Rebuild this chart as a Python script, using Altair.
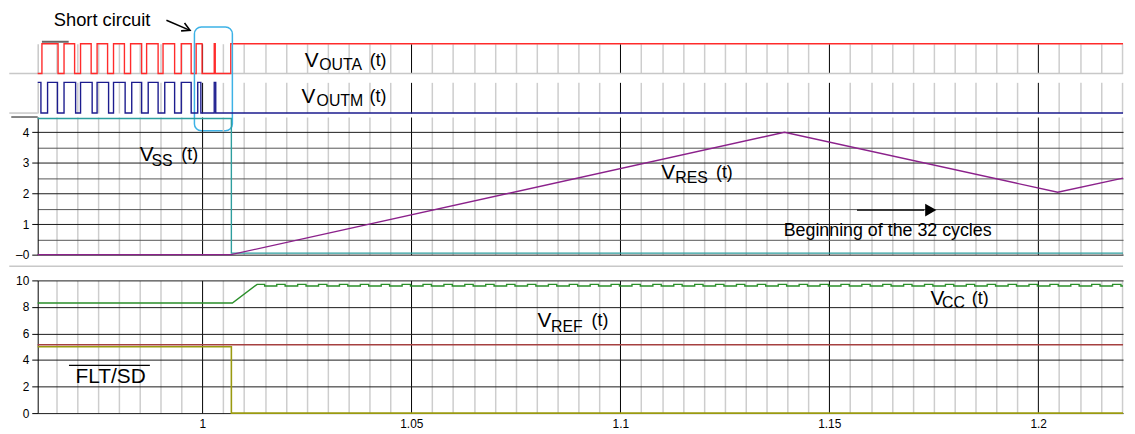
import altair as alt
import pandas as pd

FONT = "Liberation Sans"
T0, T1 = 0.9606, 1.2203
W = 1096

# ---------------- data ----------------
outa_t = [0.96059, 0.96161, 0.96547, 0.96690, 0.96943, 0.97085, 0.97339, 0.97481,
          0.97732, 0.97874, 0.98135, 0.98282, 0.98547, 0.98666, 0.98941, 0.99059,
          0.99336, 0.99495, 0.99732, 0.99851, 0.99993, 1.00284, 1.00308, 1.00680, 1.2203]
outa_v = [0, 1, 0, 1, 0, 1, 0, 1, 0, 1, 0, 1, 0, 1, 0, 1, 0, 1, 0, 1, 0, 1, 0, 1, 1]

outm_t = [0.96059, 0.96137, 0.96296, 0.96533, 0.96690, 0.96967, 0.97085, 0.97363,
          0.97481, 0.97756, 0.97874, 0.98152, 0.98310, 0.98547, 0.98704, 0.98941,
          0.99100, 0.99336, 0.99495, 0.99732, 0.99889, 0.99964, 1.00284, 1.00320, 1.2203]
outm_v = [1, 0, 1, 0, 1, 0, 1, 0, 1, 0, 1, 0, 1, 0, 1, 0, 1, 0, 1, 0, 1, 0, 1, 0, 0]

ss_t = [0.96059, 1.00694, 1.2203]
ss_v = [4.45, 0.05, 0.05]

res_t = [0.96059, 1.00687, 1.13929, 1.20467, 1.2203]
res_v = [0.0, 0.0, 4.0, 2.04, 2.5]

cc_t = [0.96059, 1.00718, 1.0131, 1.0149]
cc_v = [8.30, 8.30, 9.70, 9.70]
cc_base = 9.58
cc_peak = 9.70
cc_bump_start = [1.0178, 1.0228, 1.0278, 1.0328, 1.0378, 1.0428, 1.0478, 1.0528, 1.0578,
                 1.0628, 1.0678, 1.0728, 1.0778, 1.0828, 1.0878, 1.0928, 1.0978, 1.1028,
                 1.1078, 1.1128, 1.1178, 1.1228, 1.1278, 1.1328, 1.1378, 1.1428, 1.1478,
                 1.1528, 1.1578, 1.1628, 1.1678, 1.1728, 1.1778, 1.1828, 1.1878, 1.1928,
                 1.1978, 1.2028, 1.2078, 1.2128, 1.2178]
cc_bump_end = [1.0198, 1.0248, 1.0298, 1.0348, 1.0398, 1.0448, 1.0498, 1.0548, 1.0598,
               1.0648, 1.0698, 1.0748, 1.0798, 1.0848, 1.0898, 1.0948, 1.0998, 1.1048,
               1.1098, 1.1148, 1.1198, 1.1248, 1.1298, 1.1348, 1.1398, 1.1448, 1.1498,
               1.1548, 1.1598, 1.1648, 1.1698, 1.1748, 1.1798, 1.1848, 1.1898, 1.1948,
               1.1998, 1.2048, 1.2098, 1.2148, 1.2198]
cc_end = 1.2203

ref_t = [0.96059, 1.2203]
ref_v = [5.15, 5.15]

flt_t = [0.96059, 1.00694, 1.2203]
flt_v = [5.0, 0.0, 0.0]

x_label_values = [1.0, 1.05, 1.1, 1.15, 1.2]
x_grid_values = [round(0.965 + 0.005 * i, 3) for i in range(52)]
ss_grid_values = [0, 0.5, 1, 1.5, 2, 2.5, 3, 3.5, 4]
b_tick_values = [0, 2, 4, 6, 8, 10]

# ---------------- helpers ----------------
MAJOR = "abs(datum.value*20 - round(datum.value*20)) < 0.001"
GRID_COLOR = {"condition": {"test": MAJOR, "value": "#000000"}, "value": "#cdcdcd"}
GRID_WIDTH = {"condition": {"test": MAJOR, "value": 1}, "value": 1.5}


def x_axis(labels=False):
    kw = dict(values=x_grid_values, grid=True, gridColor=GRID_COLOR, gridWidth=GRID_WIDTH,
              gridOpacity=1, ticks=False, domain=False, title=None)
    if labels:
        kw.update(labels=True, labelExpr=f"{MAJOR} ? format(datum.value, '~g') : ''",
                  labelFont=FONT, labelFontSize=12, labelColor="black", labelPadding=6,
                  labelOverlap=False, labelFlush=False)
    else:
        kw.update(labels=False)
    return alt.Axis(**kw)


def xenc(axis, field="t"):
    return alt.X(f"{field}:Q", scale=alt.Scale(domain=[T0, T1], nice=False, zero=False), axis=axis)


def trace(ts, vs, color, yenc, xa, interp="linear", width=1.4):
    df = pd.DataFrame({"t": ts, "v": vs, "i": list(range(len(ts)))})
    return alt.Chart(df).mark_line(color=color, strokeWidth=width, interpolate=interp).encode(
        x=xenc(xa), y=yenc, order="i:Q")


def texts(items, yenc, xa):
    df = pd.DataFrame(items, columns=["s", "t", "v", "fs"])
    return alt.Chart(df).mark_text(font=FONT, align="left", baseline="alphabetic",
                                   color="black").encode(
        x=xenc(xa), y=yenc, text="s:N", size=alt.Size("fs:Q", scale=None))


def hline(v, x1, x2, color, width, yenc):
    df = pd.DataFrame({"v": [v]})
    return alt.Chart(df).mark_rule(color=color, strokeWidth=width).encode(
        x=alt.value(x1), x2=alt.value(x2), y=yenc)


def spacer(h):
    return alt.Chart(pd.DataFrame({"a": [0]})).mark_rule(strokeOpacity=0).encode(
        x=alt.value(0), x2=alt.value(1), y=alt.value(0)).properties(width=W, height=h)


# ---------------- panel A: V_OUTA ----------------
xa_plain = x_axis(False)
yA = alt.Y("v:Q", scale=alt.Scale(domain=[0, 1], nice=False, zero=False),
           axis=alt.Axis(labels=False, ticks=False, grid=False, domain=True,
                         domainColor="#c8c8c8", domainWidth=1.5, title=None))
anchor = alt.Chart(pd.DataFrame({"a": [0]})).mark_rule(strokeOpacity=0).encode(
    x=alt.value(0), x2=alt.value(10), y=alt.value(-34))
marker = alt.Chart(pd.DataFrame({"t": [0.96161], "t2": [0.96801], "v": [1.0667]})).mark_rule(
    color="#666666", strokeWidth=2).encode(x=xenc(xa_plain), x2="t2:Q", y=yA)
arrow_shaft = trace([0.99140, 0.99704], [1.79, 1.45], "black", yA, xa_plain, width=1.6)
arrow_head = trace([0.99573, 0.99704, 0.99491], [1.70, 1.45, 1.433], "black", yA, xa_plain, width=1.6)
sc_box = alt.Chart(pd.DataFrame({"t": [0.99810], "t2": [1.00718], "v": [1.567], "v2": [-1.933]})).mark_rect(
    fillOpacity=0, stroke="#3db2e6", strokeWidth=1.5, cornerRadius=7).encode(
    x=xenc(xa_plain), x2="t2:Q", y=yA, y2="v2:Q")
panelA = alt.layer(
    hline(0, -28.7, W, "#c8c8c8", 1.5, yA),
    anchor,
    trace(outa_t, outa_v, "#ff2b2b", yA, xa_plain, interp="step-after"),
    marker,
    texts([("Short circuit", 0.96445, 1.6, 18.5),
           ("V", 1.02450, 0.2333, 21), ("OUTA", 1.02796, 0.1167, 16), ("(t)", 1.04005, 0.25, 18)],
          yA, xa_plain),
    arrow_shaft, arrow_head, sc_box,
).properties(width=W, height=30)

# ---------------- panel M: V_OUTM ----------------
yM = alt.Y("v:Q", scale=alt.Scale(domain=[0, 1], nice=False, zero=False),
           axis=alt.Axis(labels=False, ticks=False, grid=False, domain=True,
                         domainColor="#c8c8c8", domainWidth=1.5, title=None))
panelM = alt.layer(
    hline(0, -28.7, 0, "#c8c8c8", 1.5, yM),
    trace(outm_t, outm_v, "#1c1c8e", yM, xa_plain, interp="step-after"),
    texts([("V", 1.02372, 0.3323, 21), ("OUTM", 1.02733, 0.2258, 16), ("(t)", 1.04000, 0.371, 18)],
          yM, xa_plain),
).properties(width=W, height=31)

# ---------------- panel SS: V_SS, V_RES ----------------
ySS = alt.Y("v:Q", scale=alt.Scale(domain=[0, 4.5], nice=False, zero=False),
            axis=alt.Axis(values=ss_grid_values, grid=True,
                          gridColor={"condition": {"test": "datum.value % 1 != 0", "value": "#555555"},
                                     "value": "#1a1a1a"},
                          gridWidth=1, gridOpacity=1,
                          tickOpacity={"condition": {"test": "datum.value % 1 != 0", "value": 0},
                                       "value": 1},
                          tickColor="black", tickSize=6, domainColor="black",
                          labelExpr="datum.value == 0 ? '\u20130' : (datum.value % 1 == 0 ? format(datum.value, 'd') : '')",
                          labelFont=FONT, labelFontSize=12, labelColor="black", labelPadding=3,
                          labelOverlap=False, title=None))
beg_tri = alt.Chart(pd.DataFrame({"t": [1.17429], "v": [1.457]})).mark_point(
    shape="triangle-right", filled=True, color="black", size=170, opacity=1).encode(
    x=xenc(xa_plain), y=ySS)
panelSS = alt.layer(
    hline(4.5, -26.7, 0, "#333333", 1.2, ySS),
    trace(ss_t, ss_v, "#2e9e9e", ySS, xa_plain, interp="step-after"),
    trace(res_t, res_v, "#8b218b", ySS, xa_plain),
    trace([1.15664, 1.17275], [1.457, 1.457], "black", ySS, xa_plain, width=1.3),
    beg_tri,
    texts([("V", 0.98500, 3.059, 21), ("SS", 0.98784, 2.897, 16), ("(t)", 0.99495, 3.092, 18),
           ("V", 1.10980, 2.460, 21), ("RES", 1.11315, 2.347, 16), ("(t)", 1.12289, 2.509, 18),
           ("Beginning of the 32 cycles", 1.13910, 0.615, 18)],
          ySS, xa_plain),
).properties(width=W, height=139)

# ---------------- panel B: V_CC, V_REF, FLT/SD ----------------
xa_lab = x_axis(True)
yB = alt.Y("v:Q", scale=alt.Scale(domain=[0, 10], nice=False, zero=False),
           axis=alt.Axis(values=b_tick_values, grid=True, gridColor="#1a1a1a", gridWidth=1,
                         gridOpacity=1, tickColor="black", tickSize=6, domainColor="black",
                         labelFont=FONT, labelFontSize=12, labelColor="black", labelPadding=3,
                         title=None))

cc_rows_t = list(cc_t) + [cc_t[-1]]
cc_rows_v = list(cc_v) + [cc_base]
for s, e in zip(cc_bump_start, cc_bump_end):
    cc_rows_t += [s, s, e, e]
    cc_rows_v += [cc_base, cc_peak, cc_peak, cc_base]
cc_rows_t.append(cc_end)
cc_rows_v.append(cc_base)

overline = alt.Chart(pd.DataFrame({"t": [0.96808], "t2": [0.98744], "v": [3.596]})).mark_rule(
    color="black", strokeWidth=1.3).encode(x=xenc(xa_lab), x2="t2:Q", y=yB)

panelB = alt.layer(
    hline(11.07, -28.7, W, "#c8c8c8", 1.5, yB),
    trace(cc_rows_t, cc_rows_v, "#2a8f2a", yB, xa_lab),
    trace(ref_t, ref_v, "#a54040", yB, xa_lab),
    trace(flt_t, flt_v, "#9a9a10", yB, xa_lab, interp="step-after", width=1.6),
    overline,
    texts([("V", 1.17420, 8.165, 21), ("CC", 1.17701, 7.918, 16), ("(t)", 1.18412, 8.24, 18),
           ("V", 1.08020, 6.517, 21), ("REF", 1.08341, 6.142, 16), ("(t)", 1.09313, 6.592, 18),
           ("FLT/SD", 0.96967, 2.3, 21)],
          yB, xa_lab),
).properties(width=W, height=134)

chart = alt.vconcat(
    panelA, spacer(9), panelM, spacer(4), panelSS, spacer(26), panelB,
    spacing=0, bounds="flush"
).resolve_scale(
    x="independent", y="independent"
).properties(
    padding={"left": 0, "top": 0, "right": 0, "bottom": 0}
).configure_view(strokeWidth=0)

chart.save("out.html", embed_options={"renderer": "svg", "actions": False})
